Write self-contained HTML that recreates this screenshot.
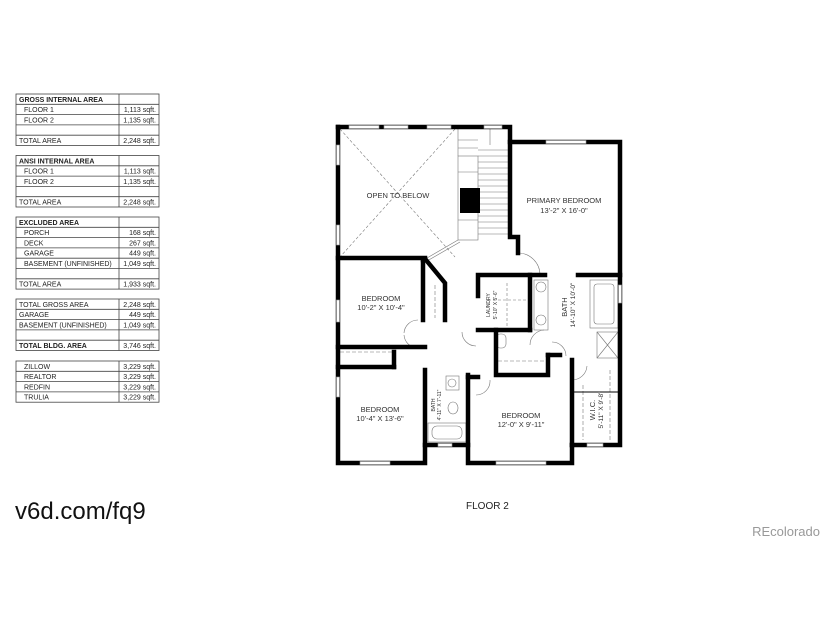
<!DOCTYPE html>
<html><head><meta charset="utf-8"><style>
html,body{margin:0;padding:0;background:#fff;}
svg{display:block;font-family:"Liberation Sans",sans-serif;}
</style></head><body>
<svg width="825" height="619" viewBox="0 0 825 619" xmlns="http://www.w3.org/2000/svg">
<g font-size="7" fill="#222">
<g stroke="#444" stroke-width="0.8" fill="none">
<rect x="16" y="94" width="143" height="51.5"/>
<line x1="119" y1="94" x2="119" y2="145.5"/>
<line x1="16" y1="104.3" x2="159" y2="104.3"/><line x1="16" y1="114.6" x2="159" y2="114.6"/><line x1="16" y1="124.9" x2="159" y2="124.9"/><line x1="16" y1="135.2" x2="159" y2="135.2"/>
<rect x="16" y="155.5" width="143" height="51.5"/>
<line x1="119" y1="155.5" x2="119" y2="207"/>
<line x1="16" y1="165.8" x2="159" y2="165.8"/><line x1="16" y1="176.1" x2="159" y2="176.1"/><line x1="16" y1="186.4" x2="159" y2="186.4"/><line x1="16" y1="196.7" x2="159" y2="196.7"/>
<rect x="16" y="217" width="143" height="72.1"/>
<line x1="119" y1="217" x2="119" y2="289.1"/>
<line x1="16" y1="227.3" x2="159" y2="227.3"/><line x1="16" y1="237.6" x2="159" y2="237.6"/><line x1="16" y1="247.9" x2="159" y2="247.9"/><line x1="16" y1="258.2" x2="159" y2="258.2"/><line x1="16" y1="268.5" x2="159" y2="268.5"/><line x1="16" y1="278.8" x2="159" y2="278.8"/>
<rect x="16" y="299" width="143" height="51.5"/>
<line x1="119" y1="299" x2="119" y2="350.5"/>
<line x1="16" y1="309.3" x2="159" y2="309.3"/><line x1="16" y1="319.6" x2="159" y2="319.6"/><line x1="16" y1="329.9" x2="159" y2="329.9"/><line x1="16" y1="340.2" x2="159" y2="340.2"/>
<rect x="16" y="361" width="143" height="41.2"/>
<line x1="119" y1="361" x2="119" y2="402.2"/>
<line x1="16" y1="371.3" x2="159" y2="371.3"/><line x1="16" y1="381.6" x2="159" y2="381.6"/><line x1="16" y1="391.9" x2="159" y2="391.9"/>
</g>
<g>
<text x="19" y="101.8" font-weight="bold">GROSS INTERNAL AREA</text>
<text x="24" y="112.1">FLOOR 1</text><text x="156" y="112.1" text-anchor="end">1,113 sqft.</text>
<text x="24" y="122.4">FLOOR 2</text><text x="156" y="122.4" text-anchor="end">1,135 sqft.</text>
<text x="19" y="143">TOTAL AREA</text><text x="156" y="143" text-anchor="end">2,248 sqft.</text>
<text x="19" y="163.3" font-weight="bold">ANSI INTERNAL AREA</text>
<text x="24" y="173.6">FLOOR 1</text><text x="156" y="173.6" text-anchor="end">1,113 sqft.</text>
<text x="24" y="183.9">FLOOR 2</text><text x="156" y="183.9" text-anchor="end">1,135 sqft.</text>
<text x="19" y="204.5">TOTAL AREA</text><text x="156" y="204.5" text-anchor="end">2,248 sqft.</text>
<text x="19" y="224.8" font-weight="bold">EXCLUDED AREA</text>
<text x="24" y="235.1">PORCH</text><text x="156" y="235.1" text-anchor="end">168 sqft.</text>
<text x="24" y="245.4">DECK</text><text x="156" y="245.4" text-anchor="end">267 sqft.</text>
<text x="24" y="255.7">GARAGE</text><text x="156" y="255.7" text-anchor="end">449 sqft.</text>
<text x="24" y="266">BASEMENT (UNFINISHED)</text><text x="156" y="266" text-anchor="end">1,049 sqft.</text>
<text x="19" y="286.6">TOTAL AREA</text><text x="156" y="286.6" text-anchor="end">1,933 sqft.</text>
<text x="19" y="306.8">TOTAL GROSS AREA</text><text x="156" y="306.8" text-anchor="end">2,248 sqft.</text>
<text x="19" y="317.1">GARAGE</text><text x="156" y="317.1" text-anchor="end">449 sqft.</text>
<text x="19" y="327.4">BASEMENT (UNFINISHED)</text><text x="156" y="327.4" text-anchor="end">1,049 sqft.</text>
<text x="19" y="348" font-weight="bold">TOTAL BLDG. AREA</text><text x="156" y="348" text-anchor="end">3,746 sqft.</text>
<text x="24" y="368.8">ZILLOW</text><text x="156" y="368.8" text-anchor="end">3,229 sqft.</text>
<text x="24" y="379.1">REALTOR</text><text x="156" y="379.1" text-anchor="end">3,229 sqft.</text>
<text x="24" y="389.4">REDFIN</text><text x="156" y="389.4" text-anchor="end">3,229 sqft.</text>
<text x="24" y="399.7">TRULIA</text><text x="156" y="399.7" text-anchor="end">3,229 sqft.</text>
</g>
</g>

<g stroke="#777" stroke-width="0.6" fill="none">
<line x1="340" y1="129" x2="455" y2="257" stroke-dasharray="3,2"/>
<line x1="455" y1="129" x2="340" y2="257" stroke-dasharray="3,2"/>
<rect x="458" y="156" width="20" height="84"/>
<g>
<line x1="478" y1="150" x2="508" y2="150"/><line x1="478" y1="156" x2="508" y2="156"/><line x1="478" y1="162" x2="508" y2="162"/><line x1="478" y1="168" x2="508" y2="168"/><line x1="478" y1="174" x2="508" y2="174"/><line x1="478" y1="180" x2="508" y2="180"/><line x1="478" y1="186" x2="508" y2="186"/><line x1="478" y1="192" x2="508" y2="192"/><line x1="478" y1="198" x2="508" y2="198"/><line x1="478" y1="204" x2="508" y2="204"/><line x1="478" y1="210" x2="508" y2="210"/><line x1="478" y1="216" x2="508" y2="216"/><line x1="478" y1="222" x2="508" y2="222"/><line x1="478" y1="228" x2="508" y2="228"/><line x1="478" y1="234" x2="508" y2="234"/>
<line x1="458" y1="140" x2="478" y2="140"/><line x1="458" y1="148" x2="478" y2="148"/>
<line x1="458" y1="172" x2="478" y2="172"/>
<line x1="458" y1="220" x2="478" y2="220"/>
<line x1="458" y1="128" x2="458" y2="156"/>
<line x1="490" y1="128" x2="490" y2="145"/>
</g>
<line x1="427" y1="258" x2="458" y2="240"/><line x1="427" y1="261" x2="460" y2="242"/>
<path d="M518 253 A22 22 0 0 1 540 275"/><path d="M404 333 A14 14 0 0 1 418 320"/><path d="M404 335 A14 14 0 0 0 418 348"/>
<path d="M462 332 A14 14 0 0 0 476 346"/><path d="M490 380 A14 14 0 0 1 476 395"/>
<path d="M530 345 A15 15 0 0 1 544 330"/><path d="M552 342 A14 14 0 0 1 566 356"/><path d="M572 380 A15 15 0 0 0 587 366"/>
<line x1="340" y1="352" x2="395" y2="352" stroke-dasharray="4,2"/>
<line x1="498" y1="361" x2="545" y2="361" stroke-dasharray="4,2"/>
<line x1="610" y1="370" x2="610" y2="440" stroke-dasharray="4,2"/>
<line x1="583" y1="385" x2="583" y2="440" stroke-dasharray="4,2"/>
<line x1="435" y1="285" x2="435" y2="318" stroke-dasharray="4,2"/>
<rect x="590" y="280" width="28" height="48"/><rect x="594" y="284" width="20" height="40" rx="3"/>
<rect x="597" y="332" width="21" height="26"/><line x1="597" y1="332" x2="618" y2="358"/><line x1="618" y1="332" x2="597" y2="358"/>
<rect x="534" y="280" width="14" height="50"/><circle cx="541" cy="287" r="5"/><circle cx="541" cy="320" r="5"/>
<line x1="488" y1="300" x2="526" y2="300" stroke-dasharray="3,2"/><line x1="507" y1="283" x2="507" y2="326" stroke-dasharray="3,2"/>
<rect x="496" y="334" width="10" height="14" rx="4"/><rect x="446" y="376" width="13" height="14"/><circle cx="452" cy="383" r="4"/>
<ellipse cx="453" cy="408" rx="5" ry="6"/><rect x="428" y="423" width="38" height="19"/><rect x="432" y="426" width="30" height="13" rx="5"/>
</g>
<rect x="460" y="188" width="20" height="25" fill="#000"/>
<g stroke="#000" stroke-width="4.5" fill="none" stroke-linecap="square">
<polyline points="338,127 510,127 510,142 620,142 620,445 572,445"/>
<polyline points="338,127 338,463 425,463 425,445 468,445 468,463 572,463 572,445"/>
<polyline points="510,142 510,237 518,237 518,253"/>
<line x1="338" y1="258" x2="425" y2="258"/>
<polyline points="423,260 426,260 445,283 445,320"/>
<line x1="423" y1="260" x2="423" y2="320"/>
<line x1="338" y1="347" x2="425" y2="347"/>
<line x1="338" y1="367" x2="394" y2="367"/><line x1="394" y1="352" x2="394" y2="367"/>
<line x1="425" y1="370" x2="425" y2="445"/>
<line x1="468" y1="375" x2="468" y2="445"/><line x1="468" y1="377" x2="478" y2="377"/>
<polyline points="478,296 478,275 545,275"/><line x1="478" y1="330" x2="530" y2="330"/>
<line x1="530" y1="275" x2="530" y2="330"/><line x1="578" y1="275" x2="620" y2="275"/>
<polyline points="496,330 496,375 548,375 548,355"/>
<line x1="548" y1="355" x2="560" y2="355"/>
<line x1="572" y1="360" x2="572" y2="445"/>
<line x1="572" y1="392" x2="620" y2="392" stroke-width="1"/>
</g>
<!-- windows -->
<g fill="#fff" stroke="#999" stroke-width="0.6">
<rect x="349" y="125.5" width="30" height="3"/><rect x="384" y="125.5" width="24" height="3"/><rect x="427" y="125.5" width="24" height="3"/><rect x="484" y="125.5" width="18" height="3"/>
<rect x="546" y="140.5" width="40" height="3"/>
<rect x="336.5" y="145" width="3" height="20"/><rect x="336.5" y="225" width="3" height="20"/><rect x="336.5" y="300" width="3" height="22"/><rect x="336.5" y="377" width="3" height="20"/>
<rect x="618.5" y="285" width="3" height="18"/>
<rect x="360" y="461.5" width="30" height="3"/><rect x="438" y="443.5" width="14" height="3"/><rect x="496" y="461.5" width="50" height="3"/><rect x="587" y="443.5" width="16" height="3"/>
</g>
<g font-size="7.5" fill="#333" text-anchor="middle">
<text x="398" y="198">OPEN TO BELOW</text>
<text x="564" y="203">PRIMARY BEDROOM</text><text x="564" y="213">13'-2" X 16'-0"</text>
<text x="381" y="301">BEDROOM</text><text x="381" y="310">10'-2" X 10'-4"</text>
<text x="380" y="412">BEDROOM</text><text x="380" y="421">10'-4" X 13'-6"</text>
<text x="521" y="418">BEDROOM</text><text x="521" y="427">12'-0" X 9'-11"</text>
<text transform="translate(567,307) rotate(-90)">BATH</text>
<text transform="translate(575,305) rotate(-90)" font-size="6.5">14'-10" X 10'-0"</text>
<text transform="translate(595,410) rotate(-90)">W.I.C.</text>
<text transform="translate(603,410) rotate(-90)" font-size="6.5">5'-11" X 9'-8"</text>
<text transform="translate(490,305) rotate(-90)" font-size="5">LAUNDRY</text>
<text transform="translate(497,305) rotate(-90)" font-size="5">5'-10" X 5'-6"</text>
<text transform="translate(435,405) rotate(-90)" font-size="5">BATH</text>
<text transform="translate(441,405) rotate(-90)" font-size="5">4'-11" X 7'-11"</text>
</g>
<text x="15" y="519" font-size="24" fill="#111">v6d.com/fq9</text>
<text x="466" y="509" font-size="10" fill="#222">FLOOR 2</text>
<text x="820" y="536" font-size="13" fill="#999" text-anchor="end">REcolorado</text>
</svg>
</body></html>
